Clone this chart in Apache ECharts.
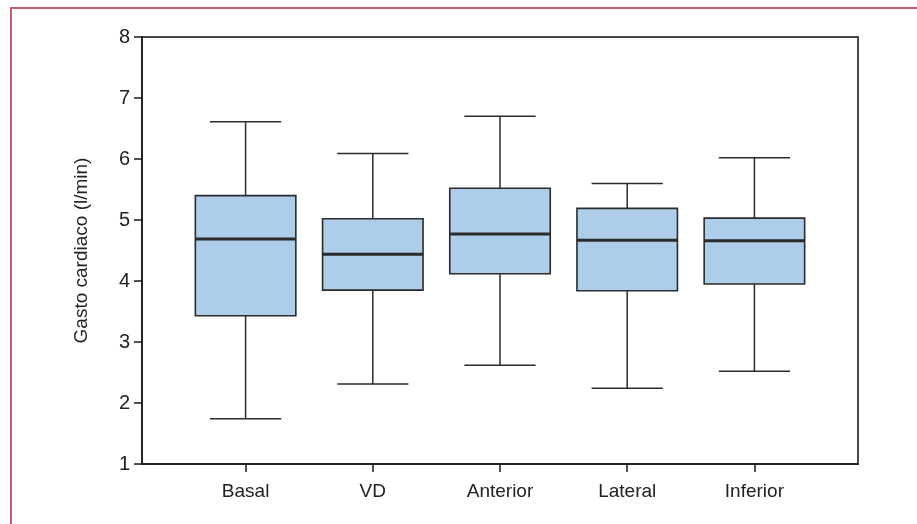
<!DOCTYPE html>
<html>
<head>
<meta charset="utf-8">
<script src="https://cdn.jsdelivr.net/npm/echarts@6/dist/echarts.min.js"></script>
<style>
  html, body { margin: 0; padding: 0; background: #ffffff; overflow: hidden; }
  #frame { position: absolute; left: 10px; top: 7px; width: 1000px; height: 600px;
           border: 2px solid #c45d6e; box-sizing: border-box; }
  #chart { position: absolute; left: 0; top: 0; width: 917px; height: 524px; }
</style>
</head>
<body>
<div id="frame"></div>
<div id="chart"></div>
<script>
// Cardiac output (l/min) per pacing site: whiskers, quartiles and median
const categories  = ['Basal', 'VD', 'Anterior', 'Lateral', 'Inferior'];
const whiskerLow  = [1.74, 2.31, 2.62, 2.24, 2.52];
const quartile1   = [3.43, 3.85, 4.12, 3.84, 3.95];
const medians     = [4.69, 4.44, 4.77, 4.67, 4.66];
const quartile3   = [5.40, 5.02, 5.52, 5.19, 5.03];
const whiskerHigh = [6.61, 6.09, 6.70, 5.60, 6.02];
const yTicks      = [1, 2, 3, 4, 5, 6, 7, 8];

const boxData = categories.map((c, i) =>
  [i, whiskerLow[i], quartile1[i], medians[i], quartile3[i], whiskerHigh[i]]);

const FONT = '"Liberation Sans", Arial, sans-serif';
const INK = '#2b2b2b';

function renderBox(params, api) {
  const i = api.value(0);
  const pLow = api.coord([i, api.value(1)]);
  const pQ1  = api.coord([i, api.value(2)]);
  const pMed = api.coord([i, api.value(3)]);
  const pQ3  = api.coord([i, api.value(4)]);
  const pHigh = api.coord([i, api.value(5)]);
  const band = api.size([1, 0])[0];
  const boxHalf = band * 0.395;
  const capHalf = band * 0.28;
  const x = pMed[0];
  const line = (x1, y1, x2, y2, w) => ({
    type: 'line',
    shape: { x1, y1, x2, y2 },
    style: { stroke: INK, lineWidth: w }
  });
  return {
    type: 'group',
    children: [
      line(x, pHigh[1], x, pQ3[1], 1.5),
      line(x, pQ1[1], x, pLow[1], 1.5),
      line(x - capHalf, pHigh[1], x + capHalf, pHigh[1], 1.5),
      line(x - capHalf, pLow[1], x + capHalf, pLow[1], 1.5),
      {
        type: 'rect',
        shape: { x: x - boxHalf, y: pQ3[1], width: boxHalf * 2, height: pQ1[1] - pQ3[1] },
        style: { fill: '#adcdeb', stroke: INK, lineWidth: 1.6 }
      },
      line(x - boxHalf, pMed[1], x + boxHalf, pMed[1], 3)
    ]
  };
}

const chart = echarts.init(document.getElementById('chart'), null, { renderer: 'canvas' });
chart.setOption({
  backgroundColor: 'transparent',
  animation: false,
  grid: [
    // plot frame with the value scale
    { left: 142, right: 59, top: 37, bottom: 60, show: true,
      borderColor: '#4a4a4a', borderWidth: 2, backgroundColor: 'transparent' },
    // category positions for the boxes
    { left: 182, right: 99, top: 37, bottom: 60 }
  ],
  xAxis: [
    { type: 'value', gridIndex: 0, min: 0, max: 1,
      axisLine: { show: true, lineStyle: { color: '#1a1a1a', width: 1.5 } },
      axisTick: { show: false }, axisLabel: { show: false }, splitLine: { show: false } },
    { type: 'category', gridIndex: 1, data: categories,
      axisLine: { show: false },
      axisTick: { show: true, alignWithLabel: true, length: 8,
                  lineStyle: { color: '#1a1a1a', width: 1.5 } },
      axisLabel: { color: '#222', fontSize: 19, fontFamily: FONT, margin: 18 },
      splitLine: { show: false } }
  ],
  yAxis: [
    { type: 'value', gridIndex: 0, min: yTicks[0], max: yTicks[yTicks.length - 1], interval: 1,
      name: 'Gasto cardiaco (l/min)', nameLocation: 'middle', nameGap: 51, nameRotate: 90,
      nameTextStyle: { color: '#222', fontSize: 19, fontFamily: FONT },
      axisLine: { show: true, lineStyle: { color: '#1a1a1a', width: 1.5 } },
      axisTick: { show: true, length: 8, lineStyle: { color: '#1a1a1a', width: 1.5 } },
      axisLabel: { color: '#222', fontSize: 20, fontFamily: FONT, margin: 12 },
      splitLine: { show: false } },
    { type: 'value', gridIndex: 1, min: yTicks[0], max: yTicks[yTicks.length - 1],
      show: false, splitLine: { show: false } }
  ],
  series: [{
    type: 'custom',
    xAxisIndex: 1,
    yAxisIndex: 1,
    renderItem: renderBox,
    encode: { x: 0, y: [1, 2, 3, 4, 5] },
    data: boxData,
    z: 5
  }]
});
</script>
</body>
</html>
